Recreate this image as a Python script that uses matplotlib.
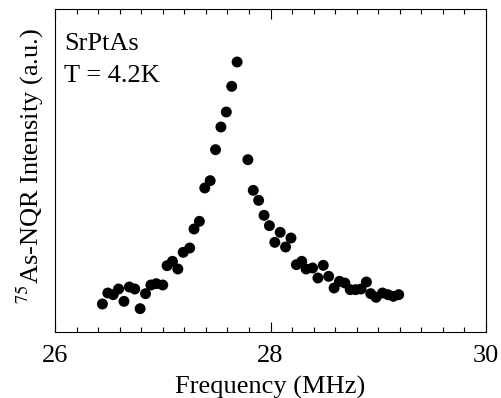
import matplotlib
matplotlib.use("Agg")
import matplotlib.pyplot as plt
from matplotlib.ticker import MultipleLocator

plt.rcParams['font.family'] = ['Liberation Serif', 'DejaVu Serif']
plt.rcParams['mathtext.fontset'] = 'stix'

freq_mhz = [26.44, 26.49, 26.54, 26.59, 26.64, 26.69, 26.74, 26.79, 26.84, 26.89,
            26.94, 27.00, 27.04, 27.09, 27.14, 27.19, 27.25, 27.29, 27.34, 27.39,
            27.44, 27.49, 27.54, 27.59, 27.64, 27.69, 27.79, 27.84, 27.89, 27.94,
            27.99, 28.04, 28.09, 28.14, 28.19, 28.24, 28.29, 28.33, 28.39, 28.44,
            28.49, 28.54, 28.59, 28.64, 28.69, 28.74, 28.79, 28.84, 28.89, 28.93,
            28.98, 29.04, 29.09, 29.14, 29.19]
intensity = [8.4, 11.7, 11.2, 12.9, 9.2, 13.5, 12.9, 7.0, 11.5, 14.1,
             14.5, 14.1, 19.9, 21.2, 18.9, 23.9, 25.2, 30.9, 33.2, 43.2,
             45.4, 54.7, 61.5, 66.0, 73.7, 81.0, 51.7, 42.5, 39.5, 35.0,
             31.9, 26.9, 29.9, 25.5, 28.2, 20.2, 21.2, 18.9, 19.2, 16.2,
             20.0, 16.7, 13.2, 15.2, 14.7, 12.7, 12.7, 12.9, 15.0, 11.5,
             10.4, 11.7, 11.2, 10.7, 11.2]
xticks = [26, 28, 30]

fig = plt.figure(figsize=(5.01, 3.98), dpi=100)
ax = fig.add_axes([55/501, 1 - 332/398, (486 - 55)/501, (332 - 9)/398])

ax.scatter(freq_mhz, intensity, s=62, color='black', edgecolors='none', zorder=3)

ax.set_xlim(26, 30)
ax.set_ylim(0, 96.9)
ax.set_xticks(xticks)
ax.set_xticklabels([str(t) for t in xticks])
ax.xaxis.set_minor_locator(MultipleLocator(0.2))
ax.set_yticks([])
ax.tick_params(axis='x', which='both', direction='in', top=True, bottom=True,
               labelsize=19, width=0.8, pad=9)
ax.tick_params(axis='x', which='major', length=7)
ax.tick_params(axis='x', which='minor', length=3.5)
for sp in ax.spines.values():
    sp.set_linewidth(0.8)

ax.set_xlabel('Frequency (MHz)', fontsize=19, labelpad=7)
ax.set_ylabel(r'$^{75}$As-NQR Intensity (a.u.)', fontsize=19)
ax.yaxis.set_label_coords(-0.022, 0.515)

ax.text(64/501, 1 - 50/398, 'SrPtAs', transform=fig.transFigure, fontsize=19,
        ha='left', va='baseline')
ax.text(64/501, 1 - 82/398, 'T = 4.2K', transform=fig.transFigure, fontsize=19,
        ha='left', va='baseline')

fig.savefig('out.png', dpi=100)
